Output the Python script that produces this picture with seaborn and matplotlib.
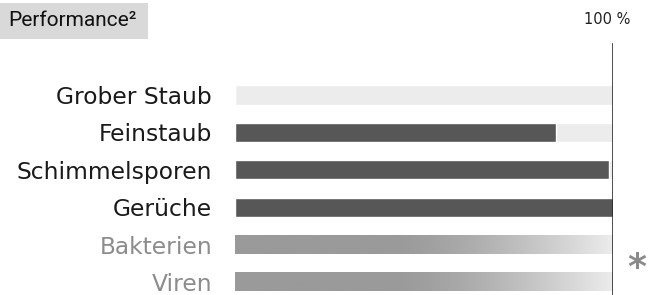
import matplotlib
matplotlib.use("Agg")
import numpy as np
import pandas as pd
import matplotlib.pyplot as plt
import seaborn as sns
from matplotlib.patches import Rectangle

# data
categories = ["Grober Staub", "Feinstaub", "Schimmelsporen", "Gerüche", "Bakterien", "Viren"]
values = [0, 85, 99, 100, 100, 100]
gradient_rows = ["Bakterien", "Viren"]
max_value = 100

df = pd.DataFrame({"filter": categories, "value": values})
solid = df[~df["filter"].isin(gradient_rows)]

sns.set_theme(style="white")
plt.rcParams["font.family"] = ["DejaVu Sans"]

W, H = 659, 295
fig = plt.figure(figsize=(W / 100, H / 100), dpi=100)

# axes: x from pixel 235 to 612.5, y from pixel 43 to 295
x0, x1 = 235, 612.5
ytop, ybot = 43, 295
ax = fig.add_axes([x0 / W, 1 - ybot / H, (x1 - x0) / W, (ybot - ytop) / H])

bar_h = 0.51
# background track for the solid rows
sns.barplot(x=[max_value] * len(solid), y=solid["filter"], order=categories,
            color="#ececec", width=bar_h, ax=ax, saturation=1, orient="h")
sns.barplot(data=solid, x="value", y="filter", order=categories,
            color="#575757", width=bar_h, ax=ax, saturation=1, orient="h")

# gradient rows
grad_df = df[df["filter"].isin(gradient_rows)]
n_before = len(ax.patches)
sns.barplot(data=grad_df, x="value", y="filter", order=categories,
            color="#9a9a9a", width=bar_h, ax=ax, saturation=1, orient="h")
grad = np.linspace(0, 1, 256)
g = np.clip((grad - 0.42) / 0.58, 0, 1) ** 1.4
cols = np.zeros((1, 256, 3))
start, end = 0x9a / 255, 0xec / 255
cols[0, :, :] = (start + (end - start) * g)[:, None]
for p in ax.patches[n_before:]:
    if p.get_width() <= 0:
        continue
    y = p.get_y()
    h = p.get_height()
    im = ax.imshow(cols, aspect="auto", extent=[0, p.get_width(), y + h, y],
                   zorder=3, interpolation="bilinear")
    im.set_clip_path(p)

ax.set_xlim(0, max_value)
ax.set_ylim(5.35, -1.39)
ax.axvline(max_value, color="#1a1a1a", lw=1.8, zorder=5)
for s in ax.spines.values():
    s.set_visible(False)
ax.set_xlabel("")
ax.set_ylabel("")
ax.set_xticks([])
ax.tick_params(axis="y", length=0, pad=16.5)
for lbl in ax.get_yticklabels():
    lbl.set_fontsize(16.8)
    lbl.set_color("#8c8c8c" if lbl.get_text() in gradient_rows else "#1a1a1a")

# title box
fig.patches.append(Rectangle((0, 1 - 39 / H), 148 / W, 36 / H, transform=fig.transFigure,
                             facecolor="#d9d9d9", edgecolor="none", zorder=0))
fig.text(8 / W, 1 - 21 / H, "Performance²", fontsize=15, color="#111111",
         va="center", ha="left", family=["Roboto", "DejaVu Sans"])

fig.text(607 / W, 1 - 20 / H, "100 %", fontsize=10.5, color="#222222", ha="center", va="center")
fig.text(637 / W, 1 - 268 / H, "*", fontsize=26, fontweight="bold", color="#8a8a8a",
         ha="center", va="center")

fig.savefig("out.png", dpi=100)
